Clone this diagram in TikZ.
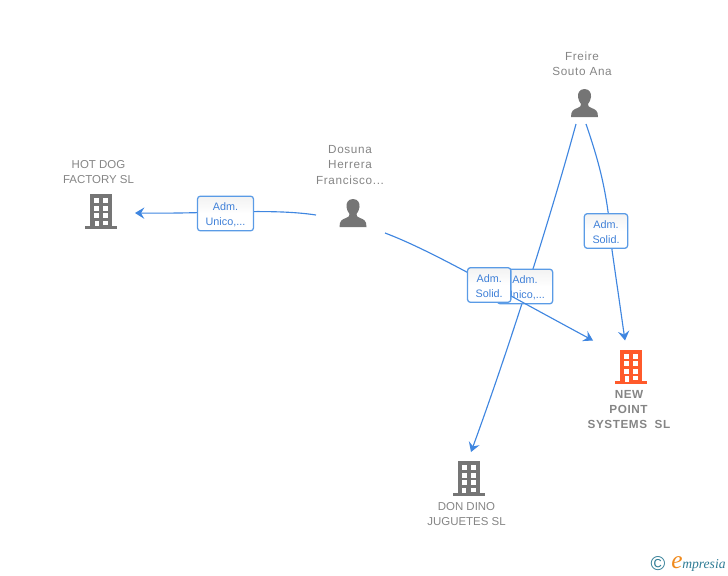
\documentclass[tikz,border=0pt]{standalone}
\usepackage{fontspec}
\setmainfont{Liberation Sans}
\newfontfamily\logofont{Liberation Serif}
\usetikzlibrary{arrows.meta}
\definecolor{linkblue}{HTML}{3F86E0}
\definecolor{boxblue}{HTML}{5A9BE6}
\definecolor{labelblue}{HTML}{3F80D8}
\definecolor{icongray}{HTML}{757575}
\definecolor{textgray}{HTML}{858585}
\definecolor{iconorange}{HTML}{FF5A2B}
\definecolor{logoteal}{HTML}{2F7C95}
\definecolor{logoorange}{HTML}{F08A1D}
\newcommand{\boxstrut}{\rule{0pt}{7.3pt}}
\tikzset{
  x=0.75pt,y=-0.75pt,
  linkline/.style={draw=linkblue,line width=0.85pt},
  arrowed/.style={linkline,-{Stealth[length=7pt,width=8.5pt,inset=2.5pt]}},
  rolebox/.style={draw=boxblue,line width=0.95pt,rounded corners=2.2pt,top color=black!5,bottom color=white,middle color=white,
    text=labelblue,font=\fontsize{8.1}{11.25}\selectfont,align=center,inner sep=0pt,minimum height=26pt},
  caption/.style={text=textgray,font=\fontsize{8.6}{11.25}\selectfont,align=center,inner sep=0pt},
  mixedcap/.style={text=textgray,font=\fontsize{8.8}{11.25}\selectfont\addfontfeature{LetterSpace=5.7},align=center,inner sep=0pt},
  boldcap/.style={text=textgray,font=\fontsize{8.8}{11.25}\selectfont\bfseries\addfontfeature{LetterSpace=4.7},align=center,inner sep=0pt},
  iconspot/.style={inner sep=0pt,minimum width=24pt,minimum height=24pt},
  pics/buildingicon/.style={code={
    \fill[#1] (-11,-17) rectangle (11,15);
    \fill[#1] (-16,14.5) rectangle (16,17.5);
    \foreach \yy in {-13,-5.5,2}{
      \fill[white] (-7,\yy) rectangle (-2,\yy+5);
      \fill[white] (2,\yy) rectangle (7,\yy+5);
    }
    \fill[white] (-6.5,9.5) rectangle (-2.5,15);
    \fill[white] (2,9.5) rectangle (7,13.5);
  }},
  pics/personicon/.style={code={
    \fill[icongray] (0,-14) .. controls (-5.5,-14) and (-7,-9) .. (-6.5,-6)
      .. controls (-6.2,-3) and (-5,-1) .. (-3.5,1) .. controls (-3.5,3) and (-4,4) .. (-7,5)
      .. controls (-11,6.5) and (-13.5,7.5) .. (-13.5,14) -- (13.5,14)
      .. controls (13.5,7.5) and (11,6.5) .. (7,5) .. controls (4,4) and (3.5,3) .. (3.5,1)
      .. controls (5,-1) and (6.2,-3) .. (6.5,-6) .. controls (7,-9) and (5.5,-14) .. (0,-14) -- cycle;
  }}
}
\begin{document}
\begin{tikzpicture}
\useasboundingbox (0,0) rectangle (728,575);
% icons
\node[iconspot] (hotdog) at (101,211) {};
\pic at (hotdog.center) {buildingicon=icongray};
\node[iconspot] (dosuna) at (353,213) {};
\pic at (dosuna.center) {personicon};
\node[iconspot] (freire) at (584.5,103) {};
\pic at (freire.center) {personicon};
\node[iconspot] (newpoint) at (631,366.5) {};
\pic at (newpoint.center) {buildingicon=iconorange};
\node[iconspot] (dondino) at (468.5,478) {};
\pic at (dondino.center) {buildingicon=icongray};
% captions
\node[caption] (cap1a) at (98.5,165) {HOT DOG};
\node[caption] (cap1b) at (98.5,180) {FACTORY SL};
\node[mixedcap] (cap2a) at (350,150) {Dosuna};
\node[mixedcap] (cap2b) at (350,165) {Herrera};
\node[mixedcap] (cap2c) at (350,180) {Francisco...};
\node[mixedcap] (cap3a) at (582,56) {Freire};
\node[mixedcap] (cap3b) at (582,71) {Souto Ana};
\node[boldcap] (cap4a) at (629,394.5) {NEW};
\node[boldcap] (cap4b) at (628.5,409.5) {POINT};
\node[boldcap] (cap4c) at (629,424.5) {SYSTEMS\ \ SL};
\node[caption] (cap5a) at (466.5,507) {DON DINO};
\node[caption] (cap5b) at (466.5,522) {JUGUETES SL};
% connector Freire - Don Dino, with its label
\draw[arrowed] ([shift={(-8.5,21)}]freire.center) .. controls (554,205) and (512,340) .. ([shift={(2.5,-26)}]dondino.center);
\node[rolebox,minimum width=41.5pt] (r3) at (525,286.5) {\boxstrut Adm.\\Unico,...};
% connector Dosuna - Hot Dog
\draw[arrowed] ([shift={(-37,2)}]dosuna.center) .. controls (270,208) and (210,214) .. ([shift={(34,2)}]hotdog.center);
\node[rolebox,minimum width=42pt] (r1) at (225.5,213.5) {\boxstrut Adm.\\Unico,...};
% connector Dosuna - New Point
\draw[arrowed] ([shift={(32,20)}]dosuna.center) .. controls (430,250) and (490,285) .. ([shift={(-38,-26)}]newpoint.center);
\node[rolebox,minimum width=32.5pt] (r2) at (489.2,285) {\boxstrut Adm.\\Solid.};
% connector Freire - New Point
\draw[arrowed] ([shift={(1.5,21)}]freire.center) .. controls (600,165) and (608,195) .. (612,250) -- ([shift={(-6,-26)}]newpoint.center);
\node[rolebox,minimum width=32.5pt] (r4) at (606,231) {\boxstrut Adm.\\Solid.};
% logo
\node[inner sep=0pt,text=logoteal,font=\fontsize{15}{15}\selectfont] (logoc) at (658,564) {©};
\node[inner sep=0pt,text=logoorange,font=\logofont\itshape\fontsize{19}{19}\selectfont] (logoe) at (677,562.5) {e};
\node[inner sep=0pt,anchor=west,text=logoteal,font=\logofont\itshape\fontsize{10.2}{10}\selectfont] (logot) at (682,565) {mpresia};
\end{tikzpicture}
\end{document}
